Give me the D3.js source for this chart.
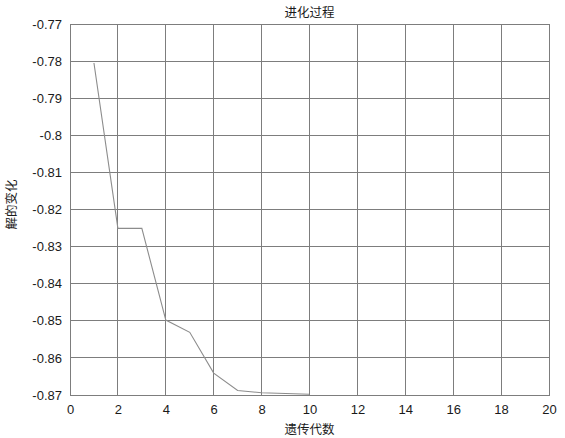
<!DOCTYPE html>
<html><head><meta charset="utf-8">
<script src="https://cdn.jsdelivr.net/npm/d3@7"></script>
<style>
html,body{margin:0;padding:0;background:#fff;}
svg{display:block;}
</style></head>
<body>
<script>
const generations = [1,2,3,4,5,6,7,8,9,10];
const solutionValues = [-0.7805,-0.8251,-0.8251,-0.8498,-0.8531,-0.8641,-0.8688,-0.8694,-0.8696,-0.8698];
const xTicks = [0,2,4,6,8,10,12,14,16,18,20];
const yTicks = [-0.77,-0.78,-0.79,-0.8,-0.81,-0.82,-0.83,-0.84,-0.85,-0.86,-0.87];
const titleText = "进化过程";
const xLabelText = "遗传代数";
const yLabelText = "解的变化";

const W = 565, H = 438;
const m = {left:70, right:16, top:24, bottom:43};
const svg = d3.select("body").append("svg").attr("width",W).attr("height",H);
const x = d3.scaleLinear().domain([0,20]).range([m.left, W-m.right]);
const y = d3.scaleLinear().domain([-0.87,-0.77]).range([H-m.bottom, m.top]);

const gridColor = "#7d7d7d";
// grid
svg.append("g").selectAll("line.v").data(xTicks).join("line")
  .attr("x1",d=>x(d)).attr("x2",d=>x(d)).attr("y1",y(-0.87)).attr("y2",y(-0.77))
  .attr("stroke",gridColor).attr("stroke-width",1).attr("shape-rendering","crispEdges");
svg.append("g").selectAll("line.h").data(yTicks).join("line")
  .attr("x1",x(0)).attr("x2",x(20)).attr("y1",d=>y(d)).attr("y2",d=>y(d))
  .attr("stroke",gridColor).attr("stroke-width",1).attr("shape-rendering","crispEdges");

// axes
const fmt = d => String(+d.toFixed(2));
const xAxis = svg.append("g").attr("transform",`translate(0,${y(-0.87)})`)
  .call(d3.axisBottom(x).tickValues(xTicks).tickFormat(fmt).tickSize(0).tickPadding(10));
const yAxis = svg.append("g").attr("transform",`translate(${x(0)},0)`)
  .call(d3.axisLeft(y).tickValues(yTicks).tickFormat(fmt).tickSize(0).tickPadding(8));
[xAxis,yAxis].forEach(g=>{
  g.select(".domain").attr("stroke",gridColor);
  g.selectAll("text").attr("font-family","Liberation Sans, Arial, sans-serif").attr("font-size",13).attr("fill","#1a1a1a");
});
// frame
svg.append("rect").attr("x",x(0)).attr("y",y(-0.77)).attr("width",x(20)-x(0)).attr("height",y(-0.87)-y(-0.77))
  .attr("fill","none").attr("stroke",gridColor).attr("shape-rendering","crispEdges");

// line
const line = d3.line().x((d,i)=>x(generations[i])).y(d=>y(d));
svg.append("path").datum(solutionValues).attr("d",line)
  .attr("fill","none").attr("stroke","#8c8c8c").attr("stroke-width",1.1);

// labels
const cjk = "Noto Sans CJK SC, sans-serif";
svg.append("text").attr("x",(x(0)+x(20))/2).attr("y",17).attr("text-anchor","middle")
  .attr("font-family",cjk).attr("font-size",12.5).attr("fill","#1a1a1a").text(titleText);
svg.append("text").attr("x",(x(0)+x(20))/2).attr("y",434).attr("text-anchor","middle")
  .attr("font-family",cjk).attr("font-size",12.5).attr("fill","#1a1a1a").text(xLabelText);
svg.append("text").attr("transform",`translate(16,${(y(-0.77)+y(-0.87))/2 - 5}) rotate(-90)`).attr("text-anchor","middle")
  .attr("font-family",cjk).attr("font-size",12.5).attr("fill","#1a1a1a").text(yLabelText);
</script>
</body></html>
